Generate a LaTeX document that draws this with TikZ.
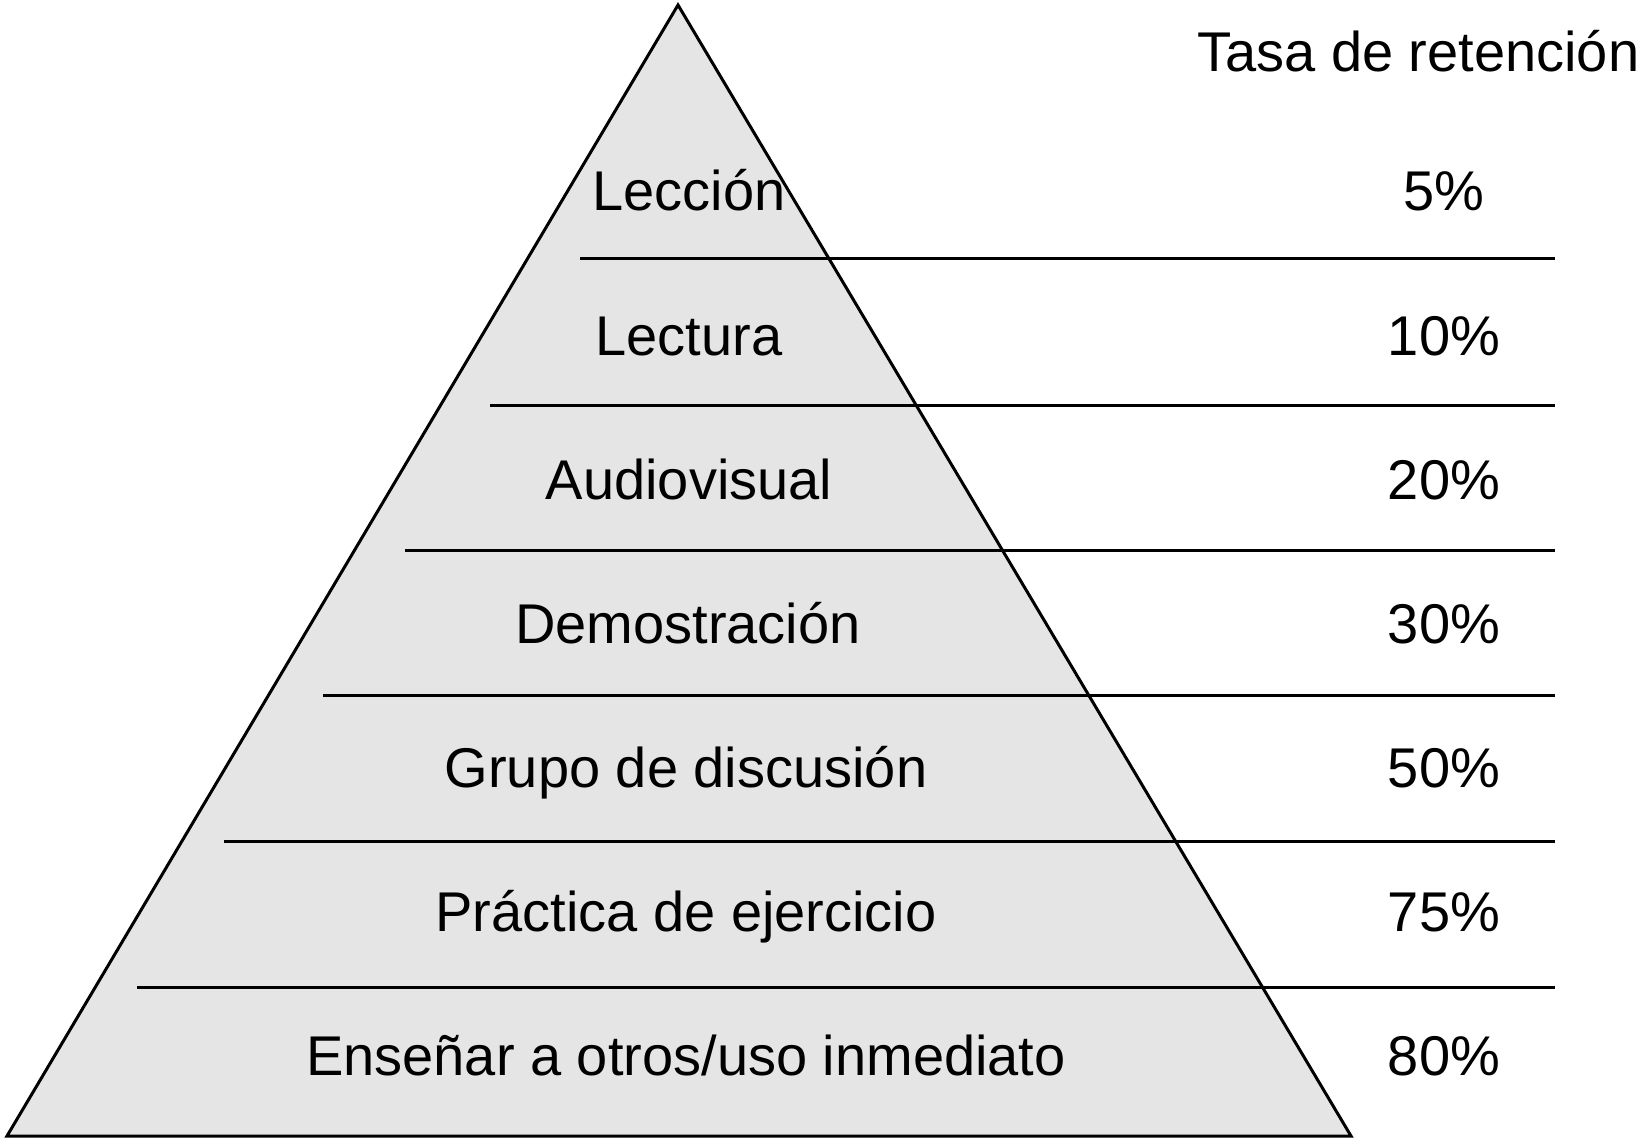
\documentclass[tikz,border=0pt]{standalone}
\usepackage{fontspec}
\setmainfont{Liberation Sans}
\begin{document}
\begin{tikzpicture}[x=1pt,y=-1pt,
  lbl/.style={font=\fontsize{56}{60}\selectfont, inner sep=0pt, anchor=base},
  sep/.style={line width=3pt, black}]
\useasboundingbox (0,0) rectangle (1637,1139);
% pyramid
\coordinate (apex) at (678,5);
\coordinate (bl) at (7,1136);
\coordinate (br) at (1351,1136);
\filldraw[fill=black!10, draw=black, line width=3pt, line join=miter] (apex) -- (br) -- (bl) -- cycle;
% separators
\foreach \y/\xl in {259/580, 405/490, 550/405, 695/323, 841/224, 987/137}{
  \draw[sep] (\xl,\y) -- (1555,\y);
}
% header
\node[lbl, anchor=base west] (head) at (1197,72) {Tasa de retención};
% labels
\node[lbl] (l1) at (689,211) {Lección};
\node[lbl] (l2) at (689,355) {Lectura};
\node[lbl] (l3) at (689,499) {Audiovisual};
\node[lbl] (l4) at (688,643) {Demostración};
\node[lbl] (l5) at (686,787) {Grupo de discusión};
\node[lbl] (l6) at (686,931) {Práctica de ejercicio};
\node[lbl] (l7) at (686,1075) {Enseñar a otros/uso inmediato};
% rates
\node[lbl] (p1) at (1444,211) {5\%};
\node[lbl] (p2) at (1444,355) {10\%};
\node[lbl] (p3) at (1444,499) {20\%};
\node[lbl] (p4) at (1444,643) {30\%};
\node[lbl] (p5) at (1444,787) {50\%};
\node[lbl] (p6) at (1444,931) {75\%};
\node[lbl] (p7) at (1444,1075) {80\%};
\end{tikzpicture}
\end{document}
